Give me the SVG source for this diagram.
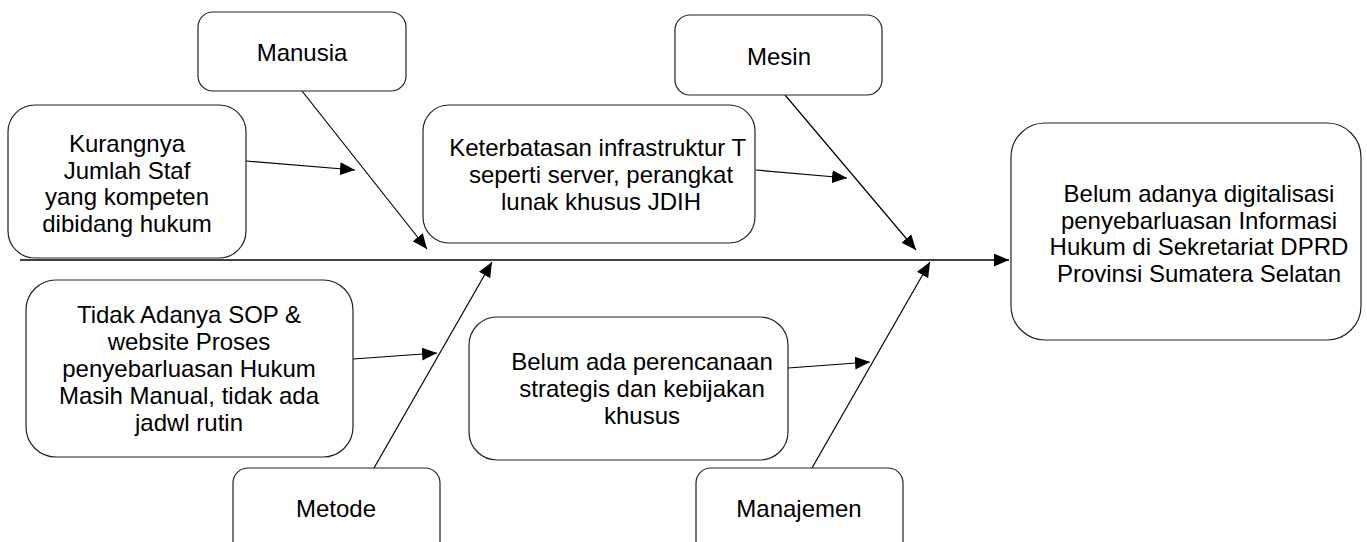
<svg xmlns="http://www.w3.org/2000/svg" width="1367" height="542" viewBox="0 0 1367 542">
<style>
.box{fill:#fff;stroke:#222;stroke-width:1.2}
.t{font-family:"Liberation Sans",Arial,sans-serif;font-size:24px;fill:#000;text-anchor:middle}
.c{stroke:#000;stroke-width:1.2;fill:none}
.spine{stroke:#404040;stroke-width:2;fill:none}
</style>
<defs>
<marker id="ah" markerUnits="userSpaceOnUse" markerWidth="16" markerHeight="13" refX="15" refY="6.5" orient="auto">
<path d="M0,0 L15,6.5 L0,13 z" fill="#000"/>
</marker>
<clipPath id="kclip"><rect x="423" y="105" width="325" height="138"/></clipPath>
</defs>
<rect width="1367" height="542" fill="#fff"/>
<g id="connectors">
<line class="spine" x1="20" y1="260" x2="1009" y2="260" marker-end="url(#ah)"/>
<line class="c" x1="302" y1="91" x2="427" y2="249" marker-end="url(#ah)"/>
<line class="c" x1="246" y1="161" x2="355" y2="170" marker-end="url(#ah)"/>
<line class="c" x1="785" y1="95" x2="916" y2="250" marker-end="url(#ah)"/>
<line class="c" x1="756" y1="170" x2="847" y2="178" marker-end="url(#ah)"/>
<line class="c" x1="374" y1="468" x2="492" y2="262" marker-end="url(#ah)"/>
<line class="c" x1="353" y1="359" x2="437" y2="353" marker-end="url(#ah)"/>
<line class="c" x1="812" y1="468" x2="930" y2="262" marker-end="url(#ah)"/>
<line class="c" x1="788" y1="368" x2="870" y2="362" marker-end="url(#ah)"/>
</g>
<g id="manusia">
<rect class="box" x="198" y="12" width="208" height="79" rx="15"/>
<text class="t" x="302" y="61">Manusia</text>
</g>
<g id="mesin">
<rect class="box" x="675" y="15" width="207" height="80" rx="15"/>
<text class="t" x="779" y="65">Mesin</text>
</g>
<g id="kurangnya">
<rect class="box" x="8" y="105" width="238" height="153" rx="27"/>
<text class="t" x="127" y="152">Kurangnya</text>
<text class="t" x="127" y="178.5">Jumlah Staf</text>
<text class="t" x="127" y="205">yang kompeten</text>
<text class="t" x="127" y="231.5">dibidang hukum</text>
</g>
<g id="keterbatasan">
<rect class="box" x="423" y="105" width="332" height="138" rx="26"/>
<text class="t" x="601" y="156" clip-path="url(#kclip)">Keterbatasan infrastruktur TI</text>
<text class="t" x="601" y="183">seperti server, perangkat</text>
<text class="t" x="601" y="210">lunak khusus JDIH</text>
</g>
<g id="tidak-adanya">
<rect class="box" x="26" y="280" width="327" height="177" rx="30"/>
<text class="t" x="189" y="323">Tidak Adanya SOP &amp;</text>
<text class="t" x="189" y="350">website Proses</text>
<text class="t" x="189" y="377">penyebarluasan Hukum</text>
<text class="t" x="189" y="404">Masih Manual, tidak ada</text>
<text class="t" x="189" y="431">jadwl rutin</text>
</g>
<g id="belum-ada">
<rect class="box" x="469" y="317" width="319" height="143" rx="28"/>
<text class="t" x="642" y="370">Belum ada perencanaan</text>
<text class="t" x="642" y="397">strategis dan kebijakan</text>
<text class="t" x="642" y="424">khusus</text>
</g>
<g id="metode">
<rect class="box" x="233" y="468" width="207" height="90" rx="15"/>
<text class="t" x="336" y="517">Metode</text>
</g>
<g id="manajemen">
<rect class="box" x="696" y="468" width="207" height="90" rx="15"/>
<text class="t" x="799" y="517">Manajemen</text>
</g>
<g id="effect">
<rect class="box" x="1011" y="123" width="350" height="217" rx="34"/>
<text class="t" x="1199" y="202">Belum adanya digitalisasi</text>
<text class="t" x="1199" y="228.5">penyebarluasan Informasi</text>
<text class="t" x="1199" y="255">Hukum di Sekretariat DPRD</text>
<text class="t" x="1199" y="282">Provinsi Sumatera Selatan</text>
</g>
</svg>
